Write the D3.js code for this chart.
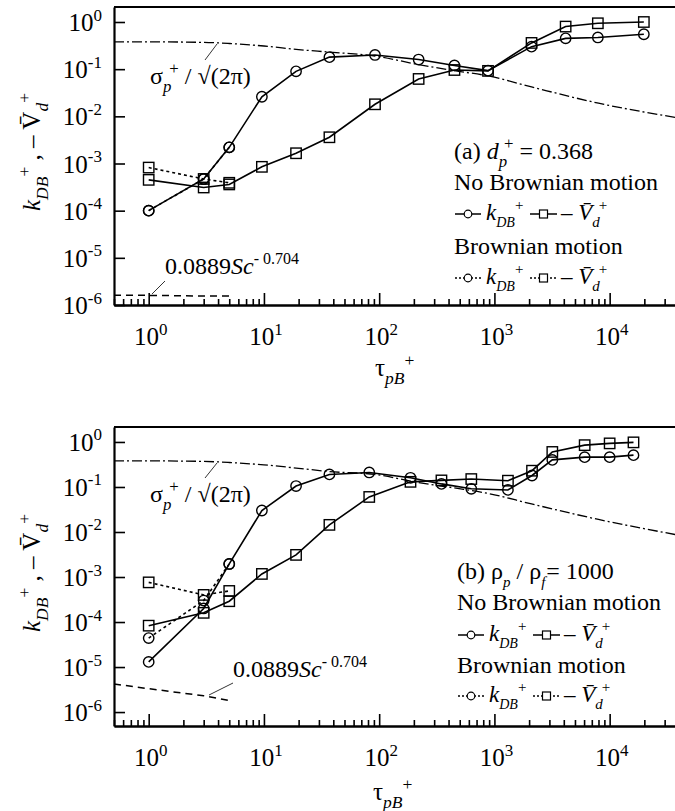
<!DOCTYPE html>
<html>
<head>
<meta charset="utf-8">
<script src="https://cdn.jsdelivr.net/npm/d3@7"></script>
<style>
    body{margin:0;background:#fff;}
    svg{display:block;}
    text, tspan{font-family:"Liberation Serif","Times New Roman",Times,"DejaVu Serif",serif;}
</style>
</head>
<body>
<svg id="chart" width="675" height="811"></svg>
<script>
//--------DATA--------

// panel (a) d_p+ = 0.368
const tauA = [1, 3, 5, 9.6, 19, 37, 92, 220, 450, 880, 2100, 4150, 7900, 19800];
const kNoBrownA = [1e-4, 4.7e-4, 2.2e-3, 2.6e-2, 0.09, 0.18, 0.20, 0.16, 0.12, 0.093, 0.30, 0.45, 0.47, 0.55];
const vdNoBrownA = [4.5e-4, 3.1e-4, 3.6e-4, 8.5e-4, 1.65e-3, 3.6e-3, 0.018, 0.062, 0.096, 0.092, 0.36, 0.80, 0.94, 1.0];

// panel (b) rho_p / rho_f = 1000
const tauB = [1, 3, 5, 9.6, 19, 37, 82, 187, 347, 630, 1310, 2120, 3180, 6070, 10000, 16100];
const kNoBrownB = [1.3e-5, 2.0e-4, 1.95e-3, 0.03, 0.105, 0.19, 0.21, 0.16, 0.117, 0.091, 0.086, 0.18, 0.40, 0.46, 0.46, 0.51];
const vdNoBrownB = [8.3e-5, 1.6e-4, 2.9e-4, 1.17e-3, 3.1e-3, 0.0144, 0.06, 0.13, 0.14, 0.15, 0.138, 0.23, 0.60, 0.85, 0.93, 0.98];

// Brownian runs only at the three smallest tau
const tauBrown = [1, 3, 5];
const kBrownA = [1e-4, 4.7e-4, 2.2e-3];
const vdBrownA = [8.2e-4, 4.7e-4, 3.9e-4];
const kBrownB = [4.4e-5, 3.0e-4, 1.95e-3];
const vdBrownB = [7.6e-4, 4.0e-4, 4.9e-4];

// sigma_p+ / sqrt(2 pi) curve
const tauSigma = [0.5, 1, 3, 5, 10, 20, 37, 92, 220, 450, 880, 2100, 8000, 36900];
const sigmaA = [0.38, 0.38, 0.37, 0.35, 0.31, 0.26, 0.23, 0.19, 0.125, 0.093, 0.072, 0.042, 0.019, 0.0095];
const sigmaB = [0.38, 0.38, 0.37, 0.35, 0.31, 0.26, 0.22, 0.19, 0.125, 0.095, 0.072, 0.042, 0.019, 0.0088];

// 0.0889 Sc^-0.704
const tauSc = [0.5, 1, 3, 5];
const scA = [1.6e-6, 1.6e-6, 1.55e-6, 1.55e-6];
const scB = [4.2e-6, 3.3e-6, 2.3e-6, 1.8e-6];

// tick values
const xMajor = [1, 10, 100, 1000, 10000];
const xMajorExp = ['0', '1', '2', '3', '4'];
const yMajor = [1, 1e-1, 1e-2, 1e-3, 1e-4, 1e-5, 1e-6];
const yMajorExp = ['0', '-1', '-2', '-3', '-4', '-5', '-6'];

//--------HELPERS--------

// writes text made of parts: {t, i (italic), sub, sup, size, dx}
function rich(textSel, parts, size){
    let shift = 0;
    parts.forEach(p => {
        let ts = textSel.append('tspan').text(p.t);
        let target = p.sub ? size * 0.32 : p.sup ? -size * 0.42 : 0;
        ts.attr('dy', target - shift);
        shift = target;
        if(p.i) ts.style('font-style', 'italic');
        if(p.sub || p.sup) ts.style('font-size', (p.size || size * 0.7) + 'px');
        else if(p.size) ts.style('font-size', p.size + 'px');
        if(p.dx) ts.attr('dx', p.dx);
    });
    return textSel;
}

const kLabel = [{t:'k', i:true}, {t:'DB', i:true, sub:true, size:14}, {t:'+', sup:true, size:15}];
const vLabel = [{t:'\u2013 '}, {t:'V\u0304', i:true}, {t:'d', i:true, sub:true, size:15}, {t:'+', sup:true, size:15, dx:-1}];

class logPanel{
    constructor(){
        this.xDomain = [0.5, 36900];
    }

    setSelection(selection){
        this.selection = selection;
        return this;
    }

    setFrame(frame){
        this.frame = frame;
        return this;
    }

    setSeries(series){
        this.series = series;
        return this;
    }

    setLayout(layout){
        this.layout = layout;
        return this;
    }

    draw(){
        let f = this.frame;
        let scaleX = d3.scaleLog().domain(this.xDomain).range([f.l, f.r]);
        let scaleY = d3.scaleLog().domain([f.yMin, f.yMax]).range([f.b, f.t]);

        this.drawAxes(scaleX, scaleY);
        this.drawLines(scaleX, scaleY);
        this.drawLabels();
        this.drawLegend();
    }

    drawAxes(scaleX, scaleY){
        let f = this.frame;
        let g = this.selection;

        //minor ticks on log x axis
        let minor = [];
        for(let e = -1; e <= 4; e++){
            for(let m = 2; m <= 9; m++){
                let v = m * Math.pow(10, e);
                if(v >= this.xDomain[0] && v <= this.xDomain[1]) minor.push(v);
            }
        }

        g.append('g')
            .attr('class', 'axis')
            .attr('transform', `translate(0, ${f.b})`)
            .call(d3.axisBottom(scaleX).tickValues(minor).tickSizeInner(-6).tickSizeOuter(0).tickFormat(''));

        g.append('g')
            .attr('class', 'axis')
            .attr('transform', `translate(0, ${f.b})`)
            .call(d3.axisBottom(scaleX).tickValues(xMajor).tickSizeInner(-12).tickSizeOuter(0).tickFormat(''));

        g.append('g')
            .attr('class', 'axis')
            .attr('transform', `translate(${f.l}, 0)`)
            .call(d3.axisLeft(scaleY).tickValues(yMajor).tickSizeInner(-11).tickSizeOuter(0).tickFormat(''));

        g.append('line')
            .attr('x1', f.l).attr('x2', f.r)
            .attr('y1', f.t).attr('y2', f.t)
            .attr('stroke', '#000')
            .attr('stroke-width', 2);

        g.selectAll('.axis .domain').attr('stroke', '#000').attr('stroke-width', 2.2);
        g.selectAll('.axis .tick line').attr('stroke', '#000').attr('stroke-width', 1.6);

        //tick labels with superscript exponents
        xMajor.forEach((v, i) => {
            rich(g.append('text')
                .attr('x', scaleX(v) + 2)
                .attr('y', f.b + 40)
                .attr('text-anchor', 'middle')
                .style('font-size', '25px'),
                [{t:'10'}, {t:xMajorExp[i], sup:true, size:17}], 25);
        });

        yMajor.forEach((v, i) => {
            rich(g.append('text')
                .attr('x', f.l - 12)
                .attr('y', scaleY(v) + 9)
                .attr('text-anchor', 'end')
                .style('font-size', '25px'),
                [{t:'10'}, {t:yMajorExp[i], sup:true, size:17}], 25);
        });
    }

    drawLines(scaleX, scaleY){
        let g = this.selection;

        this.series.forEach(s => {
            let line = d3.line()
                .x(d => scaleX(d[0]))
                .y(d => scaleY(d[1]))
                .curve(s.smooth ? d3.curveMonotoneX : d3.curveLinear);
            let pts = s.x.map((t, i) => [t, s.y[i]]);
            g.append('path')
                .attr('d', line(pts))
                .attr('fill', 'none')
                .attr('stroke', '#000')
                .attr('stroke-width', s.width || 1.6)
                .attr('stroke-dasharray', s.dash || null);
        });

        //markers on top
        this.series.filter(s => s.marker).forEach(s => {
            let pts = s.x.map((t, i) => [t, s.y[i]]);
            if(s.marker == 'circle'){
                g.selectAll(null).data(pts).join('circle')
                    .attr('cx', d => scaleX(d[0]))
                    .attr('cy', d => scaleY(d[1]))
                    .attr('r', 5.2)
                    .attr('fill', 'none')
                    .attr('stroke', '#000')
                    .attr('stroke-width', 1.4);
            }else{
                g.selectAll(null).data(pts).join('rect')
                    .attr('x', d => scaleX(d[0]) - 5.2)
                    .attr('y', d => scaleY(d[1]) - 5.2)
                    .attr('width', 10.4)
                    .attr('height', 10.4)
                    .attr('fill', 'none')
                    .attr('stroke', '#000')
                    .attr('stroke-width', 1.4);
            }
        });
    }

    drawLabels(){
        let g = this.selection;
        let L = this.layout;

        //sigma label and its leader
        rich(g.append('text').attr('x', L.sigma[0]).attr('y', L.sigma[1]).style('font-size', '24px'),
            [{t:'\u03c3'}, {t:'p', i:true, sub:true}, {t:'+', sup:true, dx:-2}, {t:' / \u221a(2\u03c0)'}], 24);
        g.append('line')
            .attr('x1', L.sigmaLead[0]).attr('y1', L.sigmaLead[1])
            .attr('x2', L.sigmaLead[2]).attr('y2', L.sigmaLead[3])
            .attr('stroke', '#000').attr('stroke-width', 0.8);

        //Sc label and its leader
        rich(g.append('text').attr('x', L.sc[0]).attr('y', L.sc[1]).style('font-size', '24px'),
            [{t:'0.0889'}, {t:'Sc', i:true}, {t:'- 0.704', sup:true, size:16}], 24);
        g.append('line')
            .attr('x1', L.scLead[0]).attr('y1', L.scLead[1])
            .attr('x2', L.scLead[2]).attr('y2', L.scLead[3])
            .attr('stroke', '#000').attr('stroke-width', 0.8);

        //axis titles
        rich(g.append('text').attr('x', L.xTitle[0]).attr('y', L.xTitle[1]).style('font-size', '25px'),
            [{t:'\u03c4'}, {t:'pB', i:true, sub:true}, {t:'+', sup:true}], 25);

        rich(g.append('text')
                .attr('transform', `translate(${L.yTitle[0]}, ${L.yTitle[1]}) rotate(-90)`)
                .attr('text-anchor', 'middle')
                .style('font-size', '25px'),
            [{t:'k', i:true}, {t:'DB', i:true, sub:true}, {t:'+', sup:true}, {t:' , \u2013 '}, {t:'V\u0304'}, {t:'d', i:true, sub:true}, {t:'+', sup:true}], 25);
    }

    drawLegend(){
        let g = this.selection;
        let L = this.layout;
        let lx = L.legendX;

        rich(g.append('text').attr('x', lx).attr('y', L.rows[0]).style('font-size', '24px'), L.title, 24);
        rich(g.append('text').attr('x', lx).attr('y', L.rows[1]).style('font-size', '24px'), [{t:'No Brownian motion'}], 24);
        rich(g.append('text').attr('x', lx).attr('y', L.rows[3]).style('font-size', '24px'), [{t:'Brownian motion'}], 24);

        [[L.rows[2], null], [L.rows[4], '2,2']].forEach(([ry, dash]) => {
            //circle entry
            g.append('line').attr('x1', lx + 1).attr('x2', lx + 27).attr('y1', ry).attr('y2', ry)
                .attr('stroke', '#000').attr('stroke-width', 1.5).attr('stroke-dasharray', dash);
            g.append('circle').attr('cx', lx + 14).attr('cy', ry).attr('r', 3.8)
                .attr('fill', '#fff').attr('stroke', '#000').attr('stroke-width', 1.2);
            rich(g.append('text').attr('x', lx + 32).attr('y', ry + 6).style('font-size', '23px'), kLabel, 23);

            //square entry
            g.append('line').attr('x1', lx + 76).attr('x2', lx + 103).attr('y1', ry).attr('y2', ry)
                .attr('stroke', '#000').attr('stroke-width', 1.5).attr('stroke-dasharray', dash);
            g.append('rect').attr('x', lx + 85.5).attr('y', ry - 4).attr('width', 8).attr('height', 8)
                .attr('fill', '#fff').attr('stroke', '#000').attr('stroke-width', 1.2);
            rich(g.append('text').attr('x', lx + 107).attr('y', ry + 6).style('font-size', '23px'), vLabel, 23);
        });
    }
}

//--------BUILD--------

let svg = d3.select('#chart');

function seriesFor(sigma, sc, kNo, vdNo, tau, kBr, vdBr){
    return [
        {x: tauSigma, y: sigma, dash: '10,3,2,3', width: 1.3, smooth: true},
        {x: tauSc, y: sc, dash: '7,5', width: 1.5},
        {x: tauBrown, y: kBr, dash: '3,3', marker: 'circle'},
        {x: tauBrown, y: vdBr, dash: '3,3', marker: 'square'},
        {x: tau, y: kNo, marker: 'circle'},
        {x: tau, y: vdNo, marker: 'square'}
    ];
}

new logPanel()
    .setSelection(svg.append('g'))
    .setFrame({l: 114, r: 675, t: 7, b: 305, yMin: 1e-6, yMax: 2.08})
    .setSeries(seriesFor(sigmaA, scA, kNoBrownA, vdNoBrownA, tauA, kBrownA, vdBrownA))
    .setLayout({
        sigma: [150, 84], sigmaLead: [205, 60, 217, 44],
        sc: [165, 274], scLead: [152, 294, 165, 281],
        xTitle: [375, 376], yTitle: [40, 152],
        legendX: 454, rows: [159, 190, 214, 254, 278],
        title: [{t:'(a) '}, {t:'d', i:true}, {t:'p', i:true, sub:true}, {t:'+', sup:true, dx:-3}, {t:' = 0.368'}]
    })
    .draw();

new logPanel()
    .setSelection(svg.append('g'))
    .setFrame({l: 114, r: 675, t: 427, b: 726, yMin: 4.9e-7, yMax: 2.15})
    .setSeries(seriesFor(sigmaB, scB, kNoBrownB, vdNoBrownB, tauB, kBrownB, vdBrownB))
    .setLayout({
        sigma: [150, 502], sigmaLead: [205, 478, 217, 463],
        sc: [233, 677], scLead: [209, 695, 233, 683],
        xTitle: [373, 800], yTitle: [40, 573],
        legendX: 457, rows: [579, 610, 635, 673, 696],
        title: [{t:'(b) \u03c1'}, {t:'p', i:true, sub:true, size:15}, {t:' / \u03c1'}, {t:'f', i:true, sub:true, size:15}, {t:'= 1000', dx:1}]
    })
    .draw();
</script>
</body>
</html>
